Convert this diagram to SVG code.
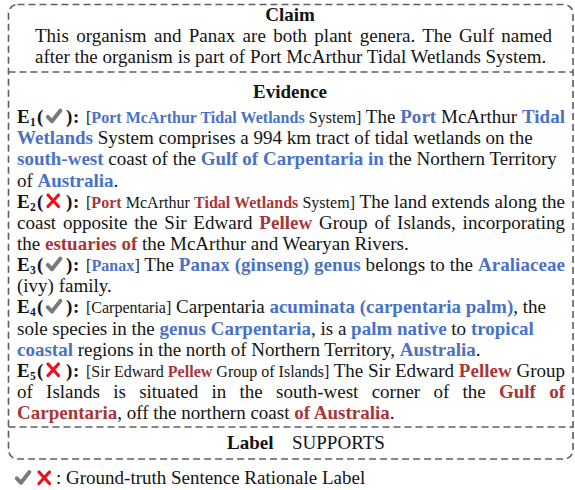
<svg xmlns="http://www.w3.org/2000/svg" xmlns:xlink="http://www.w3.org/1999/xlink" width="575" height="490" viewBox="0 0 575 490">
<style>
text{font-family:"Liberation Serif","Times New Roman",serif;font-size:19px;fill:#141414}
.b{font-weight:bold}
.s{font-size:16px}
.bb{font-weight:bold;fill:#4a72c4}
.rb{font-weight:bold;fill:#a93636}
.sub{font-size:11.5px;font-weight:bold}
.c{text-anchor:middle}
.dash{fill:none;stroke:#5f5f5f;stroke-width:1.6;stroke-dasharray:7 4}
</style>
<defs>
<g id="chk"><path d="M1.8,8.4 L6,12.8 L14.4,2" fill="none" stroke="#7a7a7a" stroke-width="3.9" stroke-linecap="round" stroke-linejoin="round"/></g>
<g id="crs"><path d="M2,2 L12.5,13.5 M12.5,2 L2,13.5" fill="none" stroke="#e8141c" stroke-width="3.3" stroke-linecap="round"/></g>
</defs>

<g id="frame">
<rect class="dash" x="8.5" y="4.5" width="564.5" height="454.5" rx="9"/>
<line class="dash" x1="8.5" y1="72" x2="573" y2="72"/>
<line class="dash" x1="8.5" y1="427" x2="573" y2="427"/>
</g>

<g id="claim">
<text class="b c" x="290" y="20.5">Claim</text>
<text x="35" y="41.5" word-spacing="2.6" textLength="517" lengthAdjust="spacing">This organism and Panax are both plant genera. The Gulf named</text>
<text x="35" y="62.5">after the organism is part of Port McArthur Tidal Wetlands System.</text>
</g>

<g id="evidence">
<text class="b c" x="290" y="98">Evidence</text>

<g id="e1">
<text class="b" x="17" y="123">E</text><text class="sub" x="30" y="126">1</text><text class="b" x="37" y="123">(</text>
<use xlink:href="#chk" x="46" y="108.5"/>
<text class="b" x="66" y="123">)</text><text class="b" x="73" y="123">:</text>
<text x="86" y="123" textLength="479" lengthAdjust="spacing"><tspan class="s">[</tspan><tspan class="s bb">Port McArthur Tidal Wetlands</tspan><tspan class="s"> System]</tspan> The <tspan class="bb">Port</tspan> McArthur <tspan class="bb">Tidal</tspan></text>
<text x="17" y="144.2"><tspan class="bb">Wetlands</tspan> System comprises a 994 km tract of tidal wetlands on the</text>
<text x="17" y="165.3"><tspan class="bb">south-west</tspan> coast of the <tspan class="bb">Gulf of Carpentaria in</tspan> the Northern Territory</text>
<text x="17" y="186.5">of <tspan class="bb">Australia</tspan>.</text>
</g>

<g id="e2">
<text class="b" x="17" y="207.6">E</text><text class="sub" x="30" y="210.6">2</text><text class="b" x="37" y="207.6">(</text>
<use xlink:href="#crs" x="46" y="193"/>
<text class="b" x="66" y="207.6">)</text><text class="b" x="73" y="207.6">:</text>
<text x="86" y="207.6" textLength="479" lengthAdjust="spacing"><tspan class="s">[</tspan><tspan class="s rb">Port</tspan><tspan class="s"> McArthur </tspan><tspan class="s rb">Tidal Wetlands</tspan><tspan class="s"> System]</tspan> The land extends along the</text>
<text x="17" y="228.8" word-spacing="2.1" textLength="548" lengthAdjust="spacing">coast opposite the Sir Edward <tspan class="rb">Pellew</tspan> Group of Islands, incorporating</text>
<text x="17" y="249.9">the <tspan class="rb">estuaries of</tspan> the McArthur and Wearyan Rivers.</text>
</g>

<g id="e3">
<text class="b" x="17" y="271.1">E</text><text class="sub" x="30" y="274.1">3</text><text class="b" x="37" y="271.1">(</text>
<use xlink:href="#chk" x="46" y="256.5"/>
<text class="b" x="66" y="271.1">)</text><text class="b" x="73" y="271.1">:</text>
<text x="86" y="271.1" textLength="479" lengthAdjust="spacing"><tspan class="s">[</tspan><tspan class="s bb">Panax</tspan><tspan class="s">]</tspan> The <tspan class="bb">Panax (ginseng) genus</tspan> belongs to the <tspan class="bb">Araliaceae</tspan></text>
<text x="17" y="292.2">(ivy) family.</text>
</g>

<g id="e4">
<text class="b" x="17" y="313.4">E</text><text class="sub" x="30" y="316.4">4</text><text class="b" x="37" y="313.4">(</text>
<use xlink:href="#chk" x="46" y="298.8"/>
<text class="b" x="66" y="313.4">)</text><text class="b" x="73" y="313.4">:</text>
<text x="86" y="313.4"><tspan class="s">[Carpentaria]</tspan> Carpentaria <tspan class="bb">acuminata (carpentaria palm)</tspan>, the</text>
<text x="17" y="334.5">sole species in the <tspan class="bb">genus Carpentaria</tspan>, is a <tspan class="bb">palm native</tspan> to <tspan class="bb">tropical</tspan></text>
<text x="17" y="355.7"><tspan class="bb">coastal</tspan> regions in the north of Northern Territory, <tspan class="bb">Australia</tspan>.</text>
</g>

<g id="e5">
<text class="b" x="17" y="376.8">E</text><text class="sub" x="30" y="379.8">5</text><text class="b" x="37" y="376.8">(</text>
<use xlink:href="#crs" x="46" y="362"/>
<text class="b" x="66" y="376.8">)</text><text class="b" x="73" y="376.8">:</text>
<text x="86" y="376.8" textLength="479" lengthAdjust="spacing"><tspan class="s">[Sir Edward </tspan><tspan class="s rb">Pellew</tspan><tspan class="s"> Group of Islands]</tspan> The Sir Edward <tspan class="rb">Pellew</tspan> Group</text>
<text x="17" y="398" word-spacing="8.5" textLength="548" lengthAdjust="spacing">of Islands is situated in the south-west corner of the <tspan class="rb">Gulf of</tspan></text>
<text x="17" y="419.1"><tspan class="rb">Carpentaria</tspan>, off the northern coast <tspan class="rb">of Australia</tspan>.</text>
</g>
</g>

<g id="label">
<text class="b" x="227" y="449">Label</text>
<text x="292" y="449">SUPPORTS</text>
</g>

<g id="legend">
<use xlink:href="#chk" x="15" y="470"/>
<use xlink:href="#crs" x="37" y="470"/>
<text x="56" y="484">: Ground-truth Sentence Rationale Label</text>
</g>
</svg>
